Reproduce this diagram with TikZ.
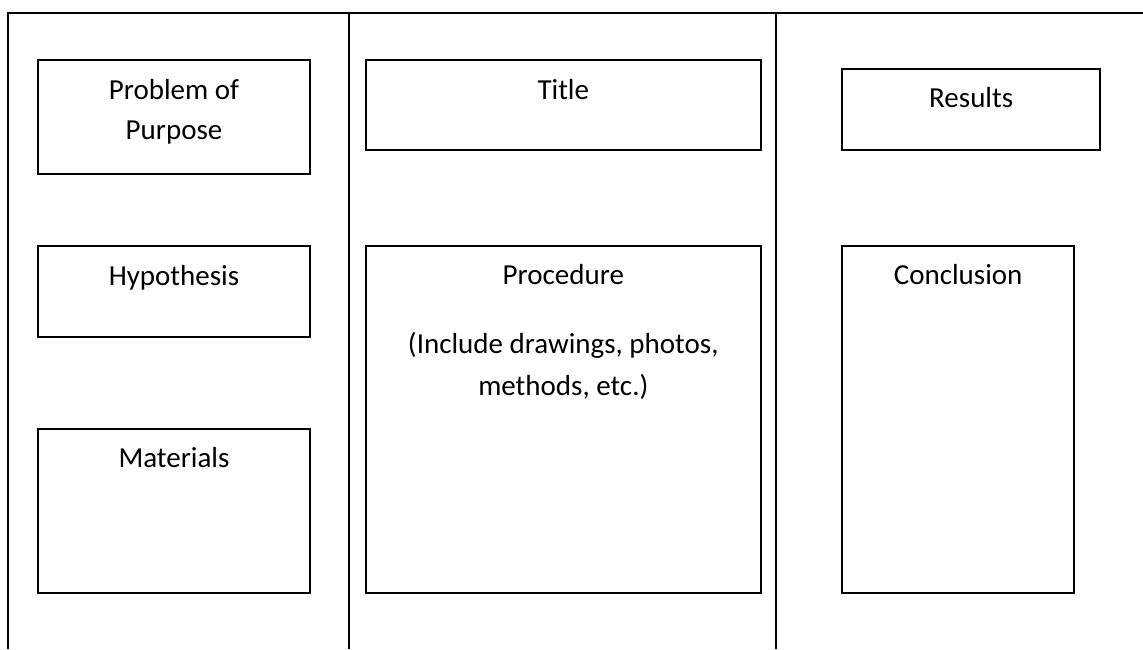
\documentclass[tikz,border=0pt]{standalone}
\usepackage{fontspec}
\setmainfont{Carlito}
\begin{document}
\begin{tikzpicture}[x=1pt,y=-1pt,
  frame/.style={line width=2pt, draw=black},
  box/.style={draw=black, line width=2pt, rectangle, inner sep=0pt, outer sep=0pt},
  lbl/.style={anchor=base, inner sep=0pt, font=\fontsize{29}{40}\selectfont}]
\useasboundingbox (0,0) rectangle (1143,649);
% frame
\coordinate (tl) at (8,12.5);
\coordinate (tr) at (1143,12.5);
\coordinate (bl) at (8,649);
\coordinate (d1t) at (349,12.5);
\coordinate (d1b) at (349,649);
\coordinate (d2t) at (776,12.5);
\coordinate (d2b) at (776,649);
\draw[frame] (bl) -- (tl) -- (tr);
\draw[frame] (d1t) -- (d1b);
\draw[frame] (d2t) -- (d2b);
% left column
\node[box, minimum width=271.4pt, minimum height=113.7pt] (pp) at (174,117.2) {};
\node[lbl] (pp1) at (174,99) {Problem of};
\node[lbl] (pp2) at (174,139.3) {Purpose};
\node[box, minimum width=271.4pt, minimum height=91pt] (hy) at (174,291.5) {};
\node[lbl] (hyt) at (174,285) {Hypothesis};
\node[box, minimum width=271.4pt, minimum height=164pt] (ma) at (174,511.3) {};
\node[lbl] (mat) at (174,467.7) {Materials};
% middle column
\node[box, minimum width=395.3pt, minimum height=89.7pt] (ti) at (563.3,105.2) {};
\node[lbl] (tit) at (563.3,99) {Title};
\node[box, minimum width=395.3pt, minimum height=347.6pt] (pr) at (563.3,419.5) {};
\node[lbl] (prt) at (563.3,284.3) {Procedure};
\node[lbl] (pr2) at (563.3,353.3) {(Include drawings, photos,};
\node[lbl] (pr3) at (563.3,395) {methods, etc.)};
% right column
\node[box, minimum width=258.3pt, minimum height=81pt] (re) at (971.2,109.2) {};
\node[lbl] (ret) at (971.2,107.7) {Results};
\node[box, minimum width=232.3pt, minimum height=347.6pt] (co) at (958.2,419.5) {};
\node[lbl] (cot) at (958.2,284.3) {Conclusion};
\end{tikzpicture}
\end{document}
